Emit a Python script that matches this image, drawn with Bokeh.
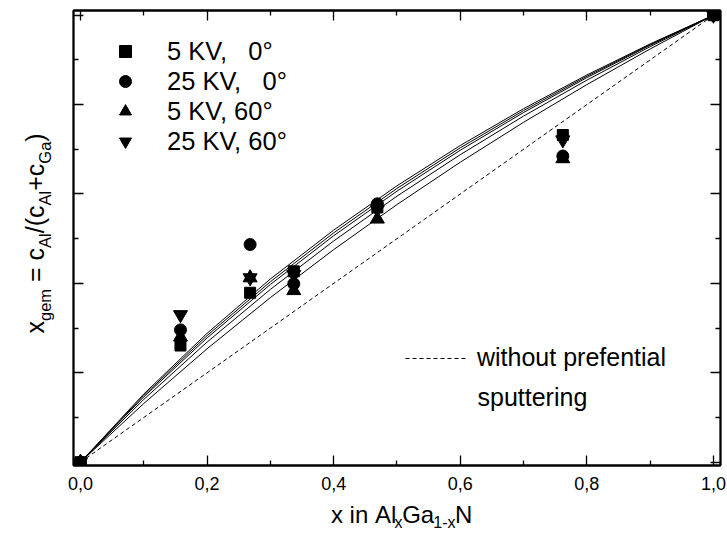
import math
from bokeh.plotting import figure
from bokeh.layouts import row, column
from bokeh.models import (Range1d, LinearAxis, FixedTicker, CustomJSTickFormatter,
                          Legend, LegendItem, Label)
from bokeh.embed import file_html
from bokeh.resources import INLINE

# ---------------- data ----------------
x_meas = [0.0, 0.158, 0.268, 0.337, 0.469, 0.762, 1.0]
y_5kv_0 = [0.0, 0.261, 0.379, 0.427, 0.570, 0.732, 1.0]
y_25kv_0 = [0.0, 0.296, 0.487, 0.399, 0.578, 0.685, 1.0]
y_5kv_60 = [0.0, 0.280, 0.4125, 0.384, 0.544, 0.679, 1.0]
y_25kv_60 = [0.0, 0.330, 0.4125, 0.420, 0.565, 0.721, 1.0]

x_curve = [0.0, 0.1, 0.2, 0.3, 0.4, 0.5, 0.6, 0.7, 0.8, 0.9, 1.0]
curve_1 = [0.0, 0.1525, 0.2883, 0.4098, 0.5192, 0.6183, 0.7085, 0.7908, 0.8663, 0.9358, 1.0]
curve_2 = [0.0, 0.1493, 0.2832, 0.4037, 0.5130, 0.6124, 0.7033, 0.7866, 0.8634, 0.9343, 1.0]
curve_3 = [0.0, 0.1461, 0.2780, 0.3976, 0.5066, 0.6063, 0.6979, 0.7823, 0.8603, 0.9327, 1.0]
curve_4 = [0.0, 0.1404, 0.2687, 0.3865, 0.4949, 0.5951, 0.6880, 0.7743, 0.8547, 0.9297, 1.0]
curve_5 = [0.0, 0.1313, 0.2537, 0.3682, 0.4755, 0.5763, 0.6711, 0.7604, 0.8447, 0.9245, 1.0]

ideal_x = [0.0, 1.0]
ideal_y = [0.0, 1.0]

x_ticks = [0.0, 0.2, 0.4, 0.6, 0.8, 1.0]
x_tick_labels = ["0,0", "0,2", "0,4", "0,6", "0,8", "1,0"]
x_minor = [0.1, 0.3, 0.5, 0.7, 0.9]
y_ticks = [0.0, 0.2, 0.4, 0.6, 0.8, 1.0]
y_minor = [0.1, 0.3, 0.5, 0.7, 0.9]

legend_labels = ["5 KV, \u00a0\u00a00\u00b0", "25 KV, \u00a0\u00a00\u00b0",
                 "5 KV, 60\u00b0", "25 KV, 60\u00b0"]
ideal_label_1 = "without prefential"
ideal_label_2 = "sputtering"

FONT = "Liberation Sans"

# ---------------- main figure ----------------
p = figure(width=666, height=500, title=None,
           x_range=Range1d(-0.011, 1.0111), y_range=Range1d(-0.0074, 1.0105),
           output_backend="svg", toolbar_location=None,
           min_border_left=13, min_border_right=6, min_border_top=10, min_border_bottom=35)
p.grid.grid_line_color = None
p.outline_line_color = "black"
p.outline_line_width = 1.8
p.background_fill_color = "white"
p.border_fill_color = "white"


def style_axis(ax, major, minor, show_labels):
    ax.ticker = FixedTicker(ticks=major, minor_ticks=minor)
    ax.major_tick_in = 10
    ax.major_tick_out = 0
    ax.minor_tick_in = 5
    ax.minor_tick_out = 0
    ax.axis_line_width = 1.8
    ax.major_tick_line_width = 1.3
    ax.minor_tick_line_width = 1.3
    ax.axis_line_color = "black"
    ax.major_tick_line_color = "black"
    ax.minor_tick_line_color = "black"
    ax.axis_label = None
    if show_labels:
        ax.formatter = CustomJSTickFormatter(
            args=dict(vals=major, labs=x_tick_labels),
            code="const i = vals.findIndex(v => Math.abs(v - tick) < 1e-9); return i >= 0 ? labs[i] : '';")
        ax.major_label_text_font = FONT
        ax.major_label_text_font_size = "18px"
        ax.major_label_text_color = "black"
        ax.major_label_standoff = 11
    else:
        ax.formatter = CustomJSTickFormatter(code="return '';")
        ax.major_label_text_font_size = "0px"
        ax.major_label_standoff = 0


style_axis(p.xaxis[0], x_ticks, x_minor, True)
style_axis(p.yaxis[0], y_ticks, y_minor, False)
top_ax = LinearAxis()
right_ax = LinearAxis()
style_axis(top_ax, x_ticks, x_minor, False)
style_axis(right_ax, y_ticks, y_minor, False)
p.add_layout(top_ax, "above")
p.add_layout(right_ax, "right")

for c in (curve_1, curve_2, curve_3, curve_4, curve_5):
    p.line(x_curve, c, line_color="black", line_width=1)

r_ideal = p.line(ideal_x, ideal_y, line_color="black", line_width=1, line_dash="4 3")

r_sq = p.scatter(x_meas, y_5kv_0, marker="square", size=11, color="black")
r_ci = p.scatter(x_meas, y_25kv_0, marker="circle", size=12, color="black")
r_tr = p.scatter(x_meas, y_5kv_60, marker="triangle", size=14, color="black")
r_it = p.scatter(x_meas, y_25kv_60, marker="inverted_triangle", size=14, color="black")

leg = Legend(items=[LegendItem(label=lab, renderers=[r])
                    for lab, r in zip(legend_labels, [r_sq, r_ci, r_tr, r_it])],
             location=(37, 309), glyph_width=30, glyph_height=30, spacing=0,
             label_standoff=27, label_height=30, padding=0, margin=0,
             label_text_font=FONT, label_text_font_size="25.5px", label_text_color="black",
             border_line_color=None, background_fill_alpha=0)
p.add_layout(leg)

leg2 = Legend(items=[LegendItem(label=ideal_label_1, renderers=[r_ideal])],
              location=(332, 93), glyph_width=61, glyph_height=20, spacing=0,
              label_standoff=11, label_height=20, padding=0, margin=0,
              label_text_font=FONT, label_text_font_size="25px", label_text_color="black",
              border_line_color=None, background_fill_alpha=0)
p.add_layout(leg2)

p.add_layout(Label(x=404, y=69, x_units="screen", y_units="screen", text=ideal_label_2,
                   text_font=FONT, text_font_size="25px", text_baseline="middle",
                   text_align="left", text_color="black"))

# ---------------- axis titles (helper figures, pixel-unit ranges) ----------------
W = {'x': 500, ' ': 278, '\u00a0': 278, 'i': 222, 'n': 556, 'A': 667, 'l': 222, 'G': 778,
     'a': 556, '1': 556, '-': 333, 'N': 722, 'g': 556, 'e': 556, 'm': 833, '=': 584,
     'c': 500, '/': 278, '(': 333, ')': 333, '+': 584}


def tw(s, size):
    return sum(W.get(ch, 556) for ch in s) * size / 1000.0


def text_fig(w, h):
    f = figure(width=w, height=h, title=None, x_range=Range1d(0, w), y_range=Range1d(0, h),
               output_backend="svg", toolbar_location=None,
               x_axis_location=None, y_axis_location=None, min_border=0)
    f.grid.visible = False
    f.outline_line_color = None
    f.background_fill_color = "white"
    f.border_fill_color = "white"
    return f


# x title: figure below the main one, page x 60..726, page y 500..532
xf = text_fig(666, 32)
XM, XS = 24, 16
xpieces = [("x\u00a0in\u00a0Al", False), ("x", True), ("Ga", False), ("1-x", True), ("N", False)]
cx = 325.0 - 60
for txt, sub in xpieces:
    size = XS if sub else XM
    xf.add_layout(Label(x=cx, y=(10 if sub else 18), text=txt, text_font=FONT,
                        text_font_size=f"{size}px", text_align="left",
                        text_baseline="alphabetic", text_color="black"))
    cx += tw(txt, size)

# y title: figure at left, page x 0..60, page y 0..532
yf = text_fig(60, 532)
YM, YS = 25, 16.5
ypieces = [("x", False), ("gem", True), ("\u00a0=\u00a0c", False), ("Al", True),
           ("/(c", False), ("Al", True), ("+c", False), ("Ga", True), (")", False)]
cy = 532 - 333.0
for txt, sub in ypieces:
    size = YS if sub else YM
    yf.add_layout(Label(x=(44 if sub else 34), y=cy, text=txt, text_font=FONT,
                        text_font_size=f"{size}px", angle=math.pi / 2, angle_units="rad",
                        text_align="left", text_baseline="alphabetic", text_color="black"))
    cy += tw(txt, size)

layout = row(yf, column(p, xf))
open("out.html", "w").write(file_html(layout, INLINE))
